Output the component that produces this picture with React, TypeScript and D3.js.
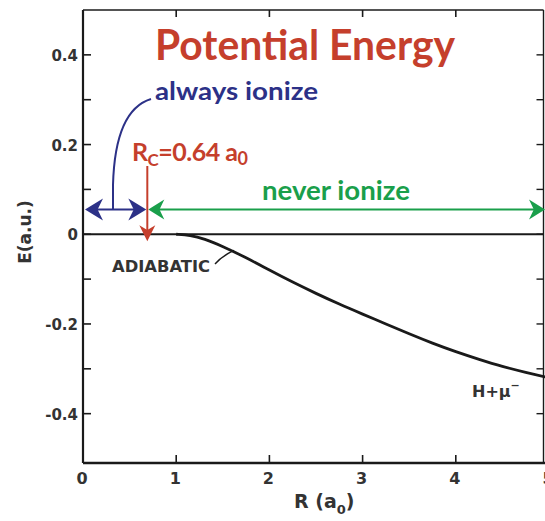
import { useEffect, useRef } from 'react';
import * as d3 from 'd3';

// adiabatic potential curve
const rValues = [0, 0.5, 1.0, 1.15, 1.3, 1.5, 1.75, 2.0, 2.25, 2.5, 2.75, 3.0, 3.25, 3.5, 3.75, 4.0, 4.25, 4.5, 4.75, 5.0];
const energyValues = [0, 0, 0, -0.002, -0.01, -0.027, -0.052, -0.08, -0.107, -0.132, -0.156, -0.178, -0.2, -0.222, -0.243, -0.262, -0.279, -0.295, -0.308, -0.32];

const xTicks = [0, 1, 2, 3, 4, 5];
const xTickLabels = ['0', '1', '2', '3', '4', '5'];
const yTicks = [0.4, 0.2, 0, -0.2, -0.4];
const yTickLabels = ['0.4', '0.2', '0', '-0.2', '-0.4'];
const yMinorTicks = [0.3, 0.1, -0.1, -0.3];

// annotation values
const criticalLabel = '0.64';
const criticalArrowR = 0.69;
const arrowLevelE = 0.055;

export default function App() {
  const svgRef = useRef<SVGSVGElement>(null);

  useEffect(() => {
    if (!svgRef.current) return;
    const svg = d3.select(svgRef.current);
    svg.selectAll('*').remove();

    const width = 545;
    const left = 83;
    const right = 543.5;
    const top = 10;
    const bottom = 463;

    const x = d3.scaleLinear().domain([0, 5]).range([left, 549]);
    const y = d3.scaleLinear().domain([-0.51, 0.5]).range([bottom, top]);

    const navy = '#2c3187';
    const red = '#c53f2c';
    const green = '#1a9f4b';
    const ink = '#1a1a1a';

    // frame
    const frame = svg.append('g').attr('fill', 'none').attr('stroke', ink);
    frame.append('line').attr('x1', left).attr('x2', left).attr('y1', top).attr('y2', bottom).attr('stroke-width', 2.2);
    frame.append('line').attr('x1', left).attr('x2', width).attr('y1', bottom).attr('y2', bottom).attr('stroke-width', 2.6);
    frame.append('line').attr('x1', left).attr('x2', right).attr('y1', top).attr('y2', top).attr('stroke-width', 1.6);
    frame.append('line').attr('x1', right).attr('x2', right).attr('y1', top).attr('y2', bottom).attr('stroke-width', 1.4);

    // ticks
    const allY = [...yTicks, ...yMinorTicks];
    allY.forEach(v => {
      frame.append('line').attr('x1', left).attr('x2', left + 8).attr('y1', y(v)).attr('y2', y(v)).attr('stroke-width', 1.6);
      frame.append('line').attr('x1', right - 7).attr('x2', right).attr('y1', y(v)).attr('y2', y(v)).attr('stroke-width', 1.4);
    });
    xTicks.slice(1, 5).forEach(v => {
      frame.append('line').attr('x1', x(v)).attr('x2', x(v)).attr('y1', bottom).attr('y2', bottom - 8).attr('stroke-width', 1.6);
      frame.append('line').attr('x1', x(v)).attr('x2', x(v)).attr('y1', top).attr('y2', top + 7).attr('stroke-width', 1.6);
    });

    // tick labels
    svg.append('g')
      .selectAll('text')
      .data(yTicks)
      .join('text')
      .attr('x', 78)
      .attr('y', d => y(d) + 6)
      .attr('text-anchor', 'end')
      .attr('font-family', 'DejaVu Sans')
      .attr('font-weight', 'bold')
      .attr('font-size', 15)
      .attr('fill', '#333')
      .text((d, i) => yTickLabels[i]);

    svg.append('g')
      .selectAll('text')
      .data(xTicks)
      .join('text')
      .attr('x', d => x(d) - 1)
      .attr('y', 484)
      .attr('text-anchor', 'middle')
      .attr('font-family', 'DejaVu Sans')
      .attr('font-weight', 'bold')
      .attr('font-size', 16)
      .attr('fill', '#333')
      .text((d, i) => xTickLabels[i]);

    // axis titles
    const xt = svg.append('text')
      .attr('x', 294)
      .attr('y', 508)
      .attr('font-family', 'DejaVu Sans')
      .attr('font-weight', 'bold')
      .attr('font-size', 19)
      .attr('fill', '#333');
    xt.append('tspan').text('R (a');
    xt.append('tspan').attr('font-size', 13).attr('dy', 6).text('0');
    xt.append('tspan').attr('dy', -6).text(')');

    svg.append('text')
      .attr('transform', 'translate(31,232) rotate(-90)')
      .attr('text-anchor', 'middle')
      .attr('font-family', 'DejaVu Sans')
      .attr('font-weight', 'bold')
      .attr('font-size', 17)
      .attr('fill', '#333')
      .text('E(a.u.)');

    // zero line
    svg.append('line')
      .attr('x1', left).attr('x2', right)
      .attr('y1', y(0)).attr('y2', y(0))
      .attr('stroke', ink).attr('stroke-width', 2);

    // adiabatic curve
    const points = rValues.map((r, i) => [r, energyValues[i]] as [number, number]).filter(d => d[0] >= 0.9);
    const line = d3.line<[number, number]>()
      .x(d => x(d[0]))
      .y(d => y(d[1]))
      .curve(d3.curveBasis);
    svg.append('path')
      .attr('d', line(points))
      .attr('fill', 'none')
      .attr('stroke', ink)
      .attr('stroke-width', 2.8);

    svg.append('text')
      .attr('x', 112)
      .attr('y', 272)
      .attr('font-family', 'DejaVu Sans')
      .attr('font-weight', 'bold')
      .attr('font-size', 15)
      .attr('textLength', 98)
      .attr('lengthAdjust', 'spacingAndGlyphs')
      .attr('fill', '#333')
      .text('ADIABATIC');
    svg.append('path')
      .attr('d', `M215,264 Q222,256 ${x(1.62)},${y(-0.036)}`)
      .attr('fill', 'none')
      .attr('stroke', ink)
      .attr('stroke-width', 1.4);

    const hl = svg.append('text')
      .attr('x', 472)
      .attr('y', 397)
      .attr('font-family', 'DejaVu Sans')
      .attr('font-weight', 'bold')
      .attr('font-size', 16)
      .attr('fill', '#333');
    hl.append('tspan').text('H+μ');
    hl.append('tspan').attr('font-size', 11).attr('dy', -8).text('−');

    // arrowhead helper: tip at (tx,ty), pointing along angle
    const head = (tx: number, ty: number, angle: number, len: number, half: number, color: string) => {
      const notch = len * 0.7;
      svg.append('path')
        .attr('d', `M0,0 L${-len},${-half} L${-notch},0 L${-len},${half} Z`)
        .attr('transform', `translate(${tx},${ty}) rotate(${angle})`)
        .attr('fill', color);
    };

    const ay = y(arrowLevelE);
    const xc = x(criticalArrowR);

    // always ionize double arrow
    svg.append('line').attr('x1', left + 6).attr('x2', xc - 6).attr('y1', ay).attr('y2', ay)
      .attr('stroke', navy).attr('stroke-width', 2);
    head(left + 2, ay, 180, 18, 11, navy);
    head(xc - 1, ay, 0, 18, 11, navy);
    svg.append('path')
      .attr('d', `M113,${ay} L113,185 Q115,110 151,99`)
      .attr('fill', 'none')
      .attr('stroke', navy)
      .attr('stroke-width', 2);

    // never ionize double arrow
    svg.append('line').attr('x1', xc + 6).attr('x2', width - 6).attr('y1', ay).attr('y2', ay)
      .attr('stroke', green).attr('stroke-width', 2);
    head(xc + 1, ay, 180, 16, 10, green);
    head(width, ay, 0, 16, 10, green);

    // critical radius arrow
    svg.append('line').attr('x1', xc).attr('x2', xc).attr('y1', 166).attr('y2', y(0))
      .attr('stroke', red).attr('stroke-width', 2);
    head(xc, y(0) + 7, 90, 16, 8, red);

    // text annotations
    svg.append('text')
      .attr('x', 155)
      .attr('y', 60)
      .attr('font-family', 'Lato')
      .attr('font-weight', 'bold')
      .attr('font-size', 42)
      .attr('textLength', 300)
      .attr('lengthAdjust', 'spacingAndGlyphs')
      .attr('fill', red)
      .text('Potential Energy');

    svg.append('text')
      .attr('x', 155)
      .attr('y', 100)
      .attr('font-family', 'Lato')
      .attr('font-weight', 'bold')
      .attr('font-size', 24)
      .attr('textLength', 163)
      .attr('lengthAdjust', 'spacingAndGlyphs')
      .attr('fill', navy)
      .text('always ionize');

    svg.append('text')
      .attr('x', 262)
      .attr('y', 200)
      .attr('font-family', 'Lato')
      .attr('font-weight', 'bold')
      .attr('font-size', 26)
      .attr('textLength', 148)
      .attr('lengthAdjust', 'spacingAndGlyphs')
      .attr('fill', green)
      .text('never ionize');

    const rc = svg.append('text')
      .attr('x', 132)
      .attr('y', 161)
      .attr('font-family', 'Lato')
      .attr('font-weight', 'bold')
      .attr('font-size', 25)
      .attr('letter-spacing', -0.5)
      .attr('fill', red);
    rc.append('tspan').text('R');
    rc.append('tspan').attr('font-size', 17).attr('dy', 5).text('C');
    rc.append('tspan').attr('dy', -5).text(`=${criticalLabel} a`);
    rc.append('tspan').attr('font-size', 18).attr('dy', 4).text('0');
  }, []);

  return (
    <svg
      ref={svgRef}
      width={545}
      height={521}
      style={{ position: 'absolute', left: 0, top: 0, background: '#fff' }}
    />
  );
}
